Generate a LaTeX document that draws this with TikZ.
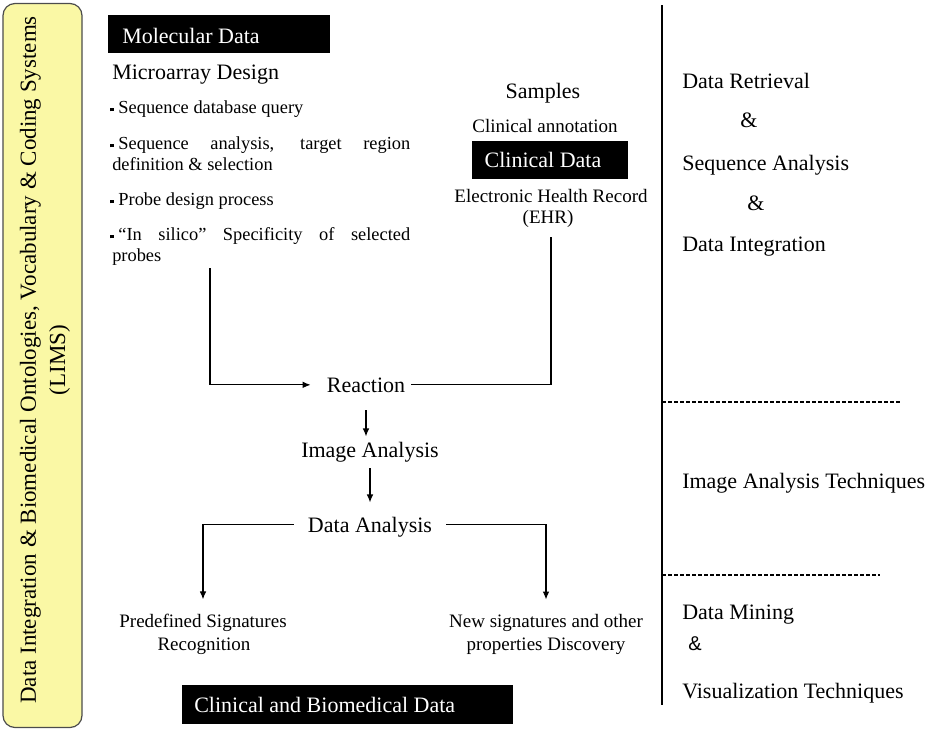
\documentclass[tikz,border=0pt]{standalone}
\usepackage{fontspec}
\setmainfont{Liberation Serif}
\newfontfamily\sansf{Liberation Sans}
\usetikzlibrary{arrows.meta}
\definecolor{sideyellow}{RGB}{250,248,165}
\newcommand\sqb{\rule[1.2pt]{2.6pt}{2.6pt}\hspace{3.5pt}}
\begin{document}
\begin{tikzpicture}[x=0.75pt,y=-0.75pt,
 lbl/.style={inner sep=0pt, font=\fontsize{16.5pt}{19pt}\selectfont},
 sm/.style={inner sep=0pt, font=\fontsize{14.25pt}{17.25pt}\selectfont},
 bul/.style={inner sep=0pt, anchor=base west, font=\fontsize{13.8pt}{16pt}\selectfont},
 wlbl/.style={lbl, text=white, anchor=base west},
 bbox/.style={fill=black, draw=none, inner sep=0pt, anchor=north west},
 ln/.style={line width=0.9pt},
 arr/.style={ln, -{Latex[length=6pt,width=5pt]}},
 dsh/.style={line width=0.8pt, dash pattern=on 3pt off 1.5pt},
]
\useasboundingbox (0,0) rectangle (942,729);

% side box
\node[draw=black!70, line width=0.9pt, fill=sideyellow, rounded corners=9pt,
      minimum width=79*0.75pt, minimum height=724*0.75pt, inner sep=0pt] (side) at (42.5,365.5) {};
\node[rotate=90, align=center, inner sep=0pt, font=\fontsize{17.25pt}{22pt}\selectfont] (sidetxt) at (45,360)
  {Data Integration \& Biomedical Ontologies, Vocabulary \& Coding Systems\\(LIMS)};

% molecular data
\node[bbox, minimum width=222*0.75pt, minimum height=38*0.75pt] (molbox) at (108,15) {};
\node[wlbl] (moltxt) at (122,43) {Molecular Data};
\node[lbl, anchor=base west] (micro) at (112,79) {Microarray Design};
\node[bul] (b1) at (110,113) {\sqb Sequence database query};
\node[bul] (b2a) at (110,149) {\makebox[225pt][s]{\sqb Sequence analysis, target region}};
\node[bul] (b2b) at (112,170) {definition \& selection};
\node[bul] (b3) at (110,205) {\sqb Probe design process};
\node[bul] (b4a) at (110,240) {\makebox[225pt][s]{\sqb “In silico” Specificity of selected}};
\node[bul] (b4b) at (112,261) {probes};

% clinical data
\node[lbl, anchor=base] (samples) at (543,98) {Samples};
\node[sm, anchor=base] (annot) at (545,132) {Clinical annotation};
\node[bbox, minimum width=156*0.75pt, minimum height=38*0.75pt] (clinbox) at (472,141) {};
\node[wlbl, anchor=base] (clintxt) at (543,167) {Clinical Data};
\node[sm, anchor=base] (ehr1) at (551,202) {Electronic Health Record};
\node[sm, anchor=base] (ehr2) at (548,223) {(EHR)};

% flow
\node[lbl, anchor=base, inner xsep=6*0.75pt] (reaction) at (366,392) {Reaction};
\node[lbl, anchor=base] (image) at (370,457) {Image Analysis};
\node[lbl, anchor=base, inner xsep=14*0.75pt, text depth=0pt] (data) at (370,532) {Data Analysis};
\node[sm, anchor=base] (pred1) at (203,627) {Predefined Signatures};
\node[sm, anchor=base] (pred2) at (204,650) {Recognition};
\node[sm, anchor=base] (new1) at (546,627) {New signatures and other};
\node[sm, anchor=base] (new2) at (546,650) {properties Discovery};

\node[bbox, minimum width=331*0.75pt, minimum height=39*0.75pt] (cbbox) at (182,685) {};
\node[wlbl] (cbtxt) at (194,712) {Clinical and Biomedical Data};

% right side
\node[lbl, anchor=base west] (r1) at (682,88) {Data Retrieval};
\node[lbl, anchor=base west] (r2) at (740,127) {\&};
\node[lbl, anchor=base west] (r3) at (682,170) {Sequence Analysis};
\node[lbl, anchor=base west] (r4) at (747,210) {\&};
\node[lbl, anchor=base west] (r5) at (682,251) {Data Integration};
\node[lbl, anchor=base west] (r6) at (682,488) {Image Analysis Techniques};
\node[lbl, anchor=base west] (r7) at (682,619) {Data Mining};
\node[lbl, anchor=base west, font=\sansf\fontsize{15pt}{18pt}\selectfont] (r8) at (688,650) {\&};
\node[lbl, anchor=base west] (r9) at (682,698) {Visualization Techniques};

\coordinate (vtop) at (662,5);
\coordinate (vbot) at (662,705);
\draw[ln] (vtop) -- (vbot);
\coordinate (d1r) at (900,402);
\draw[dsh] (vtop |- d1r) -- (d1r);
\coordinate (d2r) at (880,575);
\draw[dsh] (vtop |- d2r) -- (d2r);

% connectors
\coordinate (probeTop) at (210,268);
\draw[arr, shorten >=7.5pt] (probeTop) |- (reaction.west);
\coordinate (ehrBot) at (551,237);
\draw[ln] (reaction.east) -| (ehrBot);
\draw[arr, shorten <=13.5pt, shorten >=3.75pt] (reaction.south) -- (reaction.south |- image.north);
\draw[arr, shorten <=4.5pt, shorten >=10.5pt] (image.south) -- (image.south |- data.north);
\draw[arr, shorten >=10.5pt] (data.west) -| (pred1.north);
\draw[arr, shorten >=10.5pt] (data.east) -| (new1.north);
\end{tikzpicture}
\end{document}
